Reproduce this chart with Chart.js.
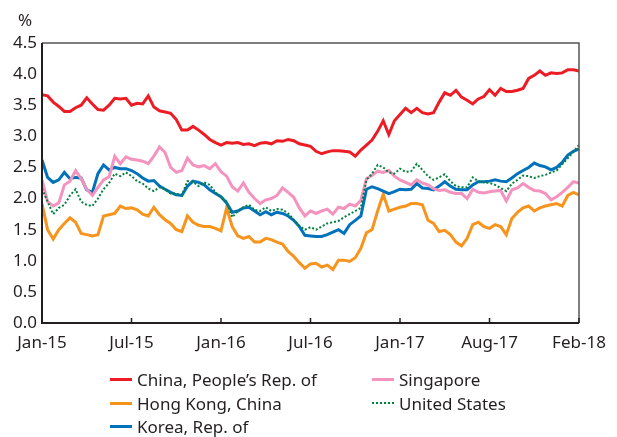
<!DOCTYPE html>
<html>
<head>
<meta charset="utf-8">
<script src="https://cdn.jsdelivr.net/npm/chart.js@4"></script>
<style>
    body { margin: 0; background: #fff; }
    #wrap { position: relative; width: 617px; height: 437px; }
    #pct { position: absolute; left: 18px; top: 8px; font: 17px "Noto Sans"; color: #231f20; }
    #legend {
        position: absolute; left: 110px; top: 368px;
        display: grid; grid-template-columns: 262px auto;
        font: 17px "Noto Sans"; color: #231f20; line-height: 23.5px;
    }
    #legend .item { display: flex; align-items: center; white-space: nowrap; }
    #legend .swatch { width: 22px; height: 0; margin-right: 5px; }
</style>
</head>
<body>
<div id="wrap">
    <canvas id="chart" width="617" height="437"></canvas>
    <div id="pct">%</div>
    <div id="legend"></div>
</div>
<script>
// x axis: one point every ~8 business days, a labelled tick every 16 points
const tickLabels = ['Jan-15', 'Jul-15', 'Jan-16', 'Jul-16', 'Jan-17', 'Aug-17', 'Feb-18'];
const pointsPerTick = 16;

const china = [
    3.67, 3.65, 3.55, 3.48, 3.40, 3.40, 3.46, 3.50, 3.62, 3.52, 3.43, 3.42, 3.50, 3.61, 3.60, 3.61,
    3.50, 3.53, 3.52, 3.65, 3.47, 3.41, 3.39, 3.37, 3.27, 3.10, 3.10, 3.16, 3.10, 3.03, 2.95, 2.90,
    2.86, 2.90, 2.89, 2.90, 2.87, 2.88, 2.85, 2.89, 2.90, 2.88, 2.93, 2.92, 2.95, 2.93, 2.88, 2.86,
    2.84, 2.76, 2.72, 2.75, 2.77, 2.77, 2.76, 2.75, 2.68, 2.78, 2.86, 2.94, 3.08, 3.25, 3.03, 3.25,
    3.35, 3.45, 3.38, 3.45, 3.38, 3.36, 3.38, 3.55, 3.70, 3.66, 3.74, 3.63, 3.58, 3.52, 3.60, 3.64,
    3.75, 3.66, 3.77, 3.72, 3.72, 3.74, 3.77, 3.93, 3.98, 4.05, 3.98, 4.02, 4.01, 4.02, 4.07, 4.07,
    4.05
];
const hongKong = [
    1.92, 1.50, 1.35, 1.50, 1.60, 1.69, 1.62, 1.44, 1.42, 1.40, 1.42, 1.72, 1.74, 1.76, 1.88, 1.84,
    1.85, 1.82, 1.75, 1.72, 1.86, 1.74, 1.66, 1.60, 1.50, 1.47, 1.72, 1.62, 1.57, 1.55, 1.55, 1.52,
    1.48, 1.85, 1.55, 1.40, 1.36, 1.39, 1.30, 1.30, 1.36, 1.34, 1.30, 1.27, 1.15, 1.07, 0.97, 0.88,
    0.95, 0.96, 0.90, 0.93, 0.86, 1.01, 1.01, 0.99, 1.05, 1.20, 1.45, 1.50, 1.80, 2.07, 1.80, 1.83,
    1.86, 1.88, 1.92, 1.92, 1.90, 1.65, 1.60, 1.47, 1.49, 1.42, 1.30, 1.24, 1.36, 1.58, 1.62, 1.55,
    1.52, 1.58, 1.55, 1.42, 1.68, 1.78, 1.85, 1.88, 1.80, 1.85, 1.88, 1.90, 1.92, 1.88, 2.05, 2.10,
    2.06
];
const korea = [
    2.62, 2.34, 2.26, 2.30, 2.42, 2.32, 2.34, 2.33, 2.14, 2.10, 2.40, 2.54, 2.46, 2.50, 2.48, 2.48,
    2.45, 2.40, 2.33, 2.28, 2.29, 2.20, 2.15, 2.10, 2.06, 2.05, 2.20, 2.28, 2.26, 2.22, 2.14, 2.08,
    2.03, 1.93, 1.78, 1.80, 1.85, 1.86, 1.80, 1.74, 1.79, 1.74, 1.78, 1.76, 1.72, 1.65, 1.55, 1.41,
    1.40, 1.39, 1.39, 1.42, 1.46, 1.50, 1.44, 1.58, 1.65, 1.72, 2.15, 2.19, 2.16, 2.12, 2.08, 2.11,
    2.15, 2.14, 2.15, 2.24, 2.17, 2.16, 2.14, 2.20, 2.27, 2.20, 2.15, 2.14, 2.14, 2.22, 2.27, 2.27,
    2.28, 2.30, 2.28, 2.27, 2.33, 2.40, 2.45, 2.50, 2.57, 2.53, 2.51, 2.46, 2.50, 2.58, 2.70, 2.76,
    2.80
];
const singapore = [
    2.30, 1.95, 1.88, 1.93, 2.22, 2.28, 2.45, 2.32, 2.15, 2.05, 2.18, 2.30, 2.35, 2.68, 2.56, 2.67,
    2.63, 2.62, 2.60, 2.56, 2.68, 2.83, 2.74, 2.50, 2.42, 2.45, 2.65, 2.54, 2.51, 2.53, 2.48, 2.56,
    2.43, 2.36, 2.19, 2.12, 2.25, 2.10, 2.00, 1.92, 1.98, 2.00, 2.05, 2.17, 2.10, 2.02, 1.85, 1.72,
    1.80, 1.76, 1.80, 1.83, 1.75, 1.86, 1.84, 1.91, 1.88, 1.97, 2.32, 2.37, 2.44, 2.42, 2.45, 2.36,
    2.30, 2.26, 2.22, 2.30, 2.25, 2.22, 2.16, 2.13, 2.14, 2.10, 2.08, 2.08, 2.00, 2.15, 2.10, 2.09,
    2.11, 2.12, 2.13, 1.96, 2.14, 2.17, 2.24, 2.18, 2.13, 2.12, 2.08, 1.98, 2.03, 2.10, 2.18, 2.27,
    2.25
];
const unitedStates = [
    2.16, 1.95, 1.75, 1.85, 1.90, 2.05, 2.15, 1.95, 1.90, 1.88, 2.00, 2.15, 2.25, 2.40, 2.36, 2.42,
    2.36, 2.28, 2.24, 2.16, 2.12, 2.18, 2.15, 2.08, 2.08, 2.05, 2.28, 2.27, 2.20, 2.26, 2.22, 2.10,
    2.02, 1.95, 1.70, 1.80, 1.86, 1.90, 1.82, 1.80, 1.86, 1.80, 1.83, 1.82, 1.76, 1.66, 1.56, 1.50,
    1.54, 1.50, 1.55, 1.60, 1.62, 1.64, 1.70, 1.75, 1.80, 1.85, 2.30, 2.40, 2.54, 2.50, 2.42, 2.40,
    2.48, 2.43, 2.44, 2.56, 2.46, 2.36, 2.30, 2.34, 2.39, 2.28, 2.20, 2.18, 2.18, 2.34, 2.28, 2.26,
    2.25, 2.22, 2.17, 2.12, 2.24, 2.30, 2.37, 2.36, 2.33, 2.36, 2.38, 2.42, 2.45, 2.55, 2.65, 2.75,
    2.86
];

const seriesNames = ['China, People\u2019s Rep. of', 'Hong Kong, China', 'Korea, Rep. of', 'Singapore', 'United States'];
const seriesColors = ['#ED1C24', '#F7941D', '#0072BC', '#F393BE', '#00803E'];
const textColor = '#231F20';

function toPoints(values) {
    return values.map((v, i) => ({ x: i, y: v }));
}

const allSeries = [china, hongKong, korea, singapore, unitedStates];
const drawOrder = [1, 5, 4, 3, 2]; // lower = drawn on top

const datasets = allSeries.map((values, i) => ({
    label: seriesNames[i],
    data: toPoints(values),
    borderColor: seriesColors[i],
    borderWidth: i === 4 ? 2 : 3,
    borderDash: i === 4 ? [2, 2] : [],
    pointRadius: 0,
    tension: 0,
    order: drawOrder[i]
}));

// Frame: black left/bottom axes, grey top/right, short inward ticks on x axis
const framePlugin = {
    id: 'frame',
    afterDatasetsDraw(chart) {
        const { ctx, chartArea: a, scales } = chart;
        ctx.save();
        ctx.strokeStyle = '#555';
        ctx.lineWidth = 1.5;
        ctx.beginPath();
        ctx.moveTo(a.left, a.top);
        ctx.lineTo(a.right, a.top);
        ctx.lineTo(a.right, a.bottom);
        ctx.stroke();

        ctx.strokeStyle = textColor;
        ctx.lineWidth = 2;
        ctx.beginPath();
        ctx.moveTo(a.left, a.top);
        ctx.lineTo(a.left, a.bottom);
        ctx.lineTo(a.right, a.bottom);
        ctx.stroke();

        ctx.lineWidth = 1.5;
        scales.x.ticks.forEach(t => {
            const x = scales.x.getPixelForValue(t.value);
            ctx.beginPath();
            ctx.moveTo(x, a.bottom);
            ctx.lineTo(x, a.bottom - 5);
            ctx.stroke();
        });
        ctx.restore();
    }
};

new Chart(document.getElementById('chart'), {
    type: 'line',
    data: { datasets: datasets },
    options: {
        responsive: false,
        animation: false,
        layout: { padding: { top: 43, right: 38, left: 0, bottom: 0 } },
        plugins: {
            legend: { display: false },
            tooltip: { enabled: false }
        },
        scales: {
            x: {
                type: 'linear',
                min: 0,
                max: (tickLabels.length - 1) * pointsPerTick,
                grid: { display: false, drawTicks: false },
                border: { display: false },
                ticks: {
                    stepSize: pointsPerTick,
                    autoSkip: false,
                    maxRotation: 0,
                    padding: 10,
                    color: textColor,
                    font: { family: 'Noto Sans', size: 17 },
                    callback: v => tickLabels[Math.round(v / pointsPerTick)] || ''
                },
                afterFit: scale => { scale.height = 114; }
            },
            y: {
                min: 0,
                max: 4.5,
                grid: { display: false, drawTicks: false },
                border: { display: false },
                ticks: {
                    stepSize: 0.5,
                    padding: 5,
                    color: textColor,
                    font: { family: 'Noto Sans', size: 17 },
                    callback: v => v.toFixed(1)
                },
                afterFit: scale => { scale.width = 42; }
            }
        }
    },
    plugins: [framePlugin]
});

// legend in two columns, filled column by column like the original
const legend = document.getElementById('legend');
const legendOrder = [0, 3, 1, 4, 2];
legendOrder.forEach(i => {
    const item = document.createElement('div');
    item.className = 'item';
    const sw = document.createElement('span');
    sw.className = 'swatch';
    sw.style.borderTop = (i === 4 ? '2px dotted ' : '3px solid ') + seriesColors[i];
    item.appendChild(sw);
    item.appendChild(document.createTextNode(seriesNames[i]));
    legend.appendChild(item);
});
</script>
</body>
</html>
